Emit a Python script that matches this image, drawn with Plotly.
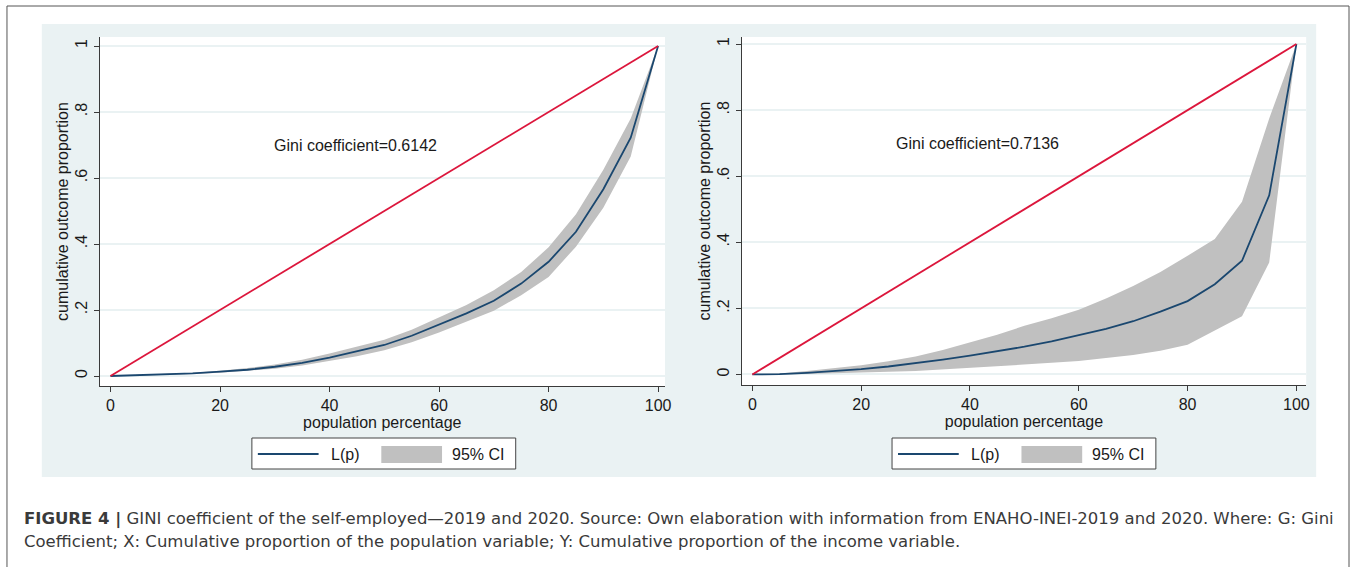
import plotly.graph_objects as go

W, H = 1357, 567

# ---------------- data ----------------
POP = [0, 5, 10, 15, 20, 25, 30, 35, 40, 45, 50, 55, 60, 65, 70, 75, 80, 85, 90, 95, 100]

L_2019 = [0, 0.002, 0.004, 0.008, 0.013, 0.019, 0.028, 0.040, 0.056, 0.074, 0.094,
          0.122, 0.155, 0.190, 0.228, 0.280, 0.346, 0.437, 0.566, 0.722, 1.0]
UP_2019 = [0, 0.003, 0.006, 0.010, 0.016, 0.024, 0.035, 0.049, 0.068, 0.088, 0.110,
           0.140, 0.178, 0.215, 0.260, 0.315, 0.390, 0.490, 0.625, 0.780, 1.0]
LO_2019 = [0, 0.001, 0.003, 0.006, 0.010, 0.015, 0.022, 0.032, 0.045, 0.060, 0.078,
           0.102, 0.132, 0.165, 0.198, 0.245, 0.300, 0.392, 0.510, 0.665, 1.0]

L_2020 = [0, 0.001, 0.005, 0.010, 0.016, 0.024, 0.034, 0.045, 0.057, 0.070, 0.084,
          0.100, 0.118, 0.138, 0.161, 0.190, 0.222, 0.273, 0.344, 0.542, 1.0]
UP_2020 = [0, 0.003, 0.010, 0.018, 0.028, 0.040, 0.054, 0.074, 0.097, 0.120, 0.147,
           0.170, 0.196, 0.230, 0.268, 0.310, 0.359, 0.410, 0.523, 0.775, 1.0]
LO_2020 = [0, 0.000, 0.001, 0.003, 0.005, 0.008, 0.010, 0.014, 0.018, 0.024, 0.030,
           0.035, 0.041, 0.050, 0.059, 0.072, 0.090, 0.133, 0.176, 0.339, 1.0]

EQUALITY_X = [0, 100]
EQUALITY_Y = [0, 1]

GINI_LABELS = ["Gini coefficient=0.6142", "Gini coefficient=0.7136"]
X_TICKS = [0, 20, 40, 60, 80, 100]
Y_TICKS = [0, 0.2, 0.4, 0.6, 0.8, 1]
Y_TICKTEXT = ["0", ".2", ".4", ".6", ".8", "1"]
X_TITLE = "population percentage"
Y_TITLE = "cumulative outcome proportion"
LEGEND_LABELS = ["L(p)", "95% CI"]
CAPTION_BOLD = "FIGURE 4 |"
CAPTION_1 = (" GINI coefficient of the self-employed\u20142019 and 2020. Source: Own elaboration "
             "with information from ENAHO-INEI-2019 and 2020. Where: G: Gini")
CAPTION_2 = ("Coefficient; X: Cumulative proportion of the population variable; "
             "Y: Cumulative proportion of the income variable.")

# ---------------- styles ----------------
FONT = "Liberation Sans, Arial, sans-serif"
CAP_FONT = "DejaVu Sans, sans-serif"
NAVY = "rgb(26,71,111)"
RED = "rgb(220,22,60)"
CI_FILL = "rgb(192,192,192)"
PANEL_BG = "rgb(234,242,243)"
GRID = "rgb(234,242,243)"
AXIS = "#3a3a3a"
TXT = "#1a1a1a"


def px(x):
    return x / W


def py(y):
    return 1 - y / H


panels = [
    dict(x0=100, x1=668, y0=37, y1=386, xr=[-2.0, 101.27], yr=[-0.0303, 1.0273],
         L=L_2019, UP=UP_2019, LO=LO_2019, gini=GINI_LABELS[0], gx=44.8, leg=253),
    dict(x0=745, x1=1312, y0=37, y1=385, xr=[-1.96, 101.8], yr=[-0.032, 1.0213],
         L=L_2020, UP=UP_2020, LO=LO_2020, gini=GINI_LABELS[1], gx=41.3, leg=896),
]

fig = go.Figure()
shapes = []
annotations = []

# page frame and grey graph region
shapes.append(dict(type="rect", xref="paper", yref="paper", x0=px(7), x1=px(1355),
                   y0=-0.3, y1=py(6), line=dict(color="#555555", width=1),
                   fillcolor="rgba(0,0,0,0)", layer="below"))
shapes.append(dict(type="rect", xref="paper", yref="paper", x0=px(42), x1=px(1322),
                   y0=py(477), y1=py(24), line=dict(width=0), fillcolor=PANEL_BG,
                   layer="below"))

for i, p in enumerate(panels):
    sfx = "" if i == 0 else str(i + 1)
    xa, ya = "x" + sfx, "y" + sfx

    # white plot region
    shapes.append(dict(type="rect", xref="paper", yref="paper", x0=px(p["x0"]),
                       x1=px(p["x1"]), y0=py(p["y1"]), y1=py(p["y0"]),
                       line=dict(width=0), fillcolor="white", layer="below"))

    fig.add_trace(go.Scatter(
        x=POP + POP[::-1], y=p["UP"] + p["LO"][::-1], fill="toself",
        fillcolor=CI_FILL, line=dict(width=0), mode="lines", name=LEGEND_LABELS[1],
        showlegend=False, hoverinfo="skip", xaxis=xa, yaxis=ya))
    fig.add_trace(go.Scatter(
        x=POP, y=p["L"], mode="lines", line=dict(color=NAVY, width=1.8),
        name=LEGEND_LABELS[0], showlegend=False, xaxis=xa, yaxis=ya))
    fig.add_trace(go.Scatter(
        x=EQUALITY_X, y=EQUALITY_Y, mode="lines", line=dict(color=RED, width=1.8),
        showlegend=False, xaxis=xa, yaxis=ya))

    axis_common = dict(ticks="outside", ticklen=5, tickwidth=1, tickcolor=AXIS,
                       showline=True, linecolor=AXIS, linewidth=1, zeroline=False,
                       tickfont=dict(family=FONT, size=16, color=TXT),
                       title_font=dict(family=FONT, size=16, color=TXT))
    fig.update_layout(**{
        "xaxis" + sfx: dict(domain=[px(p["x0"]), px(p["x1"])], range=p["xr"],
                            tickvals=X_TICKS, showgrid=False, anchor=ya,
                            title=dict(text=X_TITLE, standoff=0), **axis_common),
        "yaxis" + sfx: dict(domain=[py(p["y1"]), py(p["y0"])], range=p["yr"],
                            tickvals=Y_TICKS, ticktext=Y_TICKTEXT, tickangle=-90,
                            showgrid=True, gridcolor=GRID, gridwidth=2, anchor=xa,
                            title=dict(text=Y_TITLE, standoff=0), **axis_common),
    })

    annotations.append(dict(xref=xa, yref=ya, x=p["gx"], y=0.7, text=p["gini"],
                            showarrow=False, xanchor="center", yanchor="middle",
                            font=dict(family=FONT, size=16, color=TXT)))

    # legend box
    L0 = p["leg"]
    shapes.append(dict(type="rect", xref="paper", yref="paper", x0=px(L0), x1=px(L0 + 265),
                       y0=py(469), y1=py(438), line=dict(color="#444", width=1),
                       fillcolor="white", layer="above"))
    shapes.append(dict(type="line", xref="paper", yref="paper", x0=px(L0 + 6),
                       x1=px(L0 + 67), y0=py(454), y1=py(454),
                       line=dict(color=NAVY, width=1.8), layer="above"))
    shapes.append(dict(type="rect", xref="paper", yref="paper", x0=px(L0 + 130),
                       x1=px(L0 + 191), y0=py(463), y1=py(446), line=dict(width=0),
                       fillcolor=CI_FILL, layer="above"))
    annotations.append(dict(xref="paper", yref="paper", x=px(L0 + 77), y=py(454),
                            text=LEGEND_LABELS[0], showarrow=False, xanchor="left",
                            yanchor="middle", font=dict(family=FONT, size=16, color=TXT)))
    annotations.append(dict(xref="paper", yref="paper", x=px(L0 + 199), y=py(454),
                            text=LEGEND_LABELS[1], showarrow=False, xanchor="left",
                            yanchor="middle", font=dict(family=FONT, size=16, color=TXT)))

# caption
annotations.append(dict(xref="paper", yref="paper", x=px(22), y=py(519),
                        text="<b>" + CAPTION_BOLD + "</b>" + CAPTION_1, showarrow=False,
                        xanchor="left", yanchor="middle",
                        font=dict(family=CAP_FONT, size=16.5, color="#3a3a3a")))
annotations.append(dict(xref="paper", yref="paper", x=px(22), y=py(541),
                        text=CAPTION_2, showarrow=False, xanchor="left", yanchor="middle",
                        font=dict(family=CAP_FONT, size=16.5, color="#3a3a3a")))

fig.update_layout(width=W, height=H, autosize=False,
                  margin=dict(l=0, r=0, t=0, b=0, pad=0),
                  paper_bgcolor="white", plot_bgcolor="white",
                  showlegend=False, shapes=shapes, annotations=annotations,
                  font=dict(family=FONT, color=TXT))

fig.write_html("out.html", config={"displayModeBar": False},
               post_script="document.body.style.margin='0';document.body.style.overflow='hidden';")
